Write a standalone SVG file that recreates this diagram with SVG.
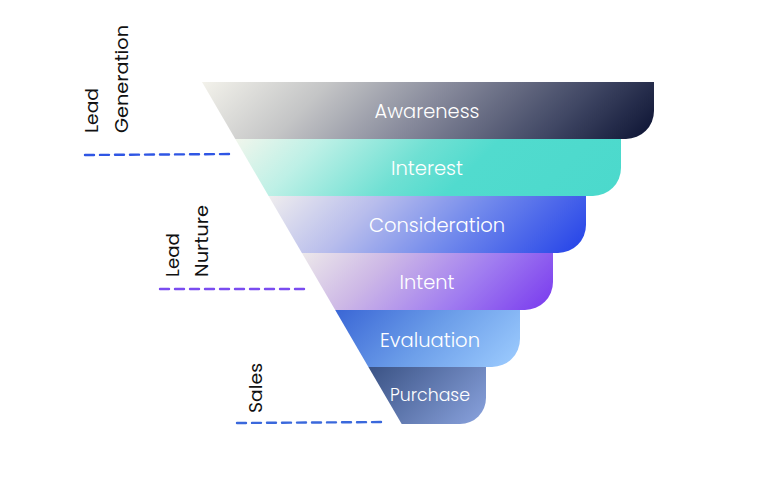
<svg xmlns="http://www.w3.org/2000/svg" width="781" height="500" viewBox="0 0 781 500">
<style>
.lbl{font-family:Poppins,"Open Sans","Liberation Sans",sans-serif;font-weight:300;fill:#ffffff;text-anchor:middle}
.side{font-family:Poppins,"Open Sans","Liberation Sans",sans-serif;font-weight:400;font-size:18px;fill:#111111}
.dash{fill:none;stroke-width:2.4;stroke-dasharray:9 6;stroke-linecap:round}
</style>
<defs>
<linearGradient id="gA" gradientUnits="userSpaceOnUse" x1="202" y1="82" x2="456.5" y2="336.5">
<stop offset="0" stop-color="#f3f2eb"/><stop offset="0.25" stop-color="#c4c5c6"/><stop offset="0.5" stop-color="#85889a"/><stop offset="0.78" stop-color="#404764"/><stop offset="1" stop-color="#0b1232"/>
</linearGradient>
<linearGradient id="gI" gradientUnits="userSpaceOnUse" x1="235" y1="139" x2="456.5" y2="360.5">
<stop offset="0" stop-color="#f1f6ec"/><stop offset="0.2" stop-color="#bdf0e6"/><stop offset="0.45" stop-color="#6fe0d3"/><stop offset="0.6" stop-color="#51dbce"/><stop offset="1" stop-color="#4bd9cc"/>
</linearGradient>
<linearGradient id="gC" gradientUnits="userSpaceOnUse" x1="268.6" y1="196" x2="455.8" y2="383.2">
<stop offset="0" stop-color="#efedee"/><stop offset="0.3" stop-color="#b8bdec"/><stop offset="0.6" stop-color="#7189ec"/><stop offset="1" stop-color="#2241e8"/>
</linearGradient>
<linearGradient id="gT" gradientUnits="userSpaceOnUse" x1="302" y1="253" x2="456" y2="407">
<stop offset="0" stop-color="#ece8ea"/><stop offset="0.3" stop-color="#cdb8e6"/><stop offset="0.65" stop-color="#a07cf0"/><stop offset="1" stop-color="#7838ee"/>
</linearGradient>
<linearGradient id="gE" gradientUnits="userSpaceOnUse" x1="335" y1="310" x2="456" y2="431">
<stop offset="0" stop-color="#3a66d5"/><stop offset="0.5" stop-color="#6c9ee9"/><stop offset="1" stop-color="#9ecdff"/>
</linearGradient>
<linearGradient id="gP" gradientUnits="userSpaceOnUse" x1="368" y1="367" x2="455.5" y2="454.5">
<stop offset="0" stop-color="#3a5284"/><stop offset="1" stop-color="#8aa3de"/>
</linearGradient>
</defs>
<g id="connectors">
<path class="dash" stroke="#2f56e4" d="M85,155 L233,154"/>
<path class="dash" stroke="#7a4cf0" d="M160,289 L308,289"/>
<path class="dash" stroke="#3a68dc" d="M237,423 L385,422"/>
</g>
<g id="awareness">
<path d="M202,82 L654,82 L654,111 A28,28 0 0 1 626,139 L235.3,139 Z" fill="url(#gA)"/>
<text class="lbl" x="427" y="118" font-size="19" textLength="105" lengthAdjust="spacingAndGlyphs">Awareness</text>
</g>
<g id="interest">
<path d="M235.3,139 L621,139 L621,168 A28,28 0 0 1 593,196 L268.6,196 Z" fill="url(#gI)"/>
<text class="lbl" x="427" y="175" font-size="19" textLength="72" lengthAdjust="spacingAndGlyphs">Interest</text>
</g>
<g id="consideration">
<path d="M268.6,196 L586,196 L586,225 A28,28 0 0 1 558,253 L301.9,253 Z" fill="url(#gC)"/>
<text class="lbl" x="437" y="232" font-size="19" textLength="136" lengthAdjust="spacingAndGlyphs">Consideration</text>
</g>
<g id="intent">
<path d="M301.9,253 L553,253 L553,282 A28,28 0 0 1 525,310 L335.2,310 Z" fill="url(#gT)"/>
<text class="lbl" x="427" y="289" font-size="19" textLength="55" lengthAdjust="spacingAndGlyphs">Intent</text>
</g>
<g id="evaluation">
<path d="M335.2,310 L520,310 L520,339 A28,28 0 0 1 492,367 L368.4,367 Z" fill="url(#gE)"/>
<text class="lbl" x="430" y="347" font-size="19" textLength="100" lengthAdjust="spacingAndGlyphs">Evaluation</text>
</g>
<g id="purchase">
<path d="M368.4,367 L486,367 L486,398 A26,26 0 0 1 460,424 L401.7,424 Z" fill="url(#gP)"/>
<text class="lbl" x="430" y="401" font-size="17" textLength="80" lengthAdjust="spacingAndGlyphs">Purchase</text>
</g>
<g id="lead-generation">
<text class="side" transform="translate(98,133) rotate(-90)" textLength="45" lengthAdjust="spacingAndGlyphs">Lead</text>
<text class="side" transform="translate(128,133) rotate(-90)" textLength="108" lengthAdjust="spacingAndGlyphs">Generation</text>
</g>
<g id="lead-nurture">
<text class="side" transform="translate(179,277) rotate(-90)" textLength="44" lengthAdjust="spacingAndGlyphs">Lead</text>
<text class="side" transform="translate(208,277) rotate(-90)" textLength="72" lengthAdjust="spacingAndGlyphs">Nurture</text>
</g>
<g id="sales">
<text class="side" transform="translate(262,413) rotate(-90)" textLength="50" lengthAdjust="spacingAndGlyphs">Sales</text>
</g>
</svg>
